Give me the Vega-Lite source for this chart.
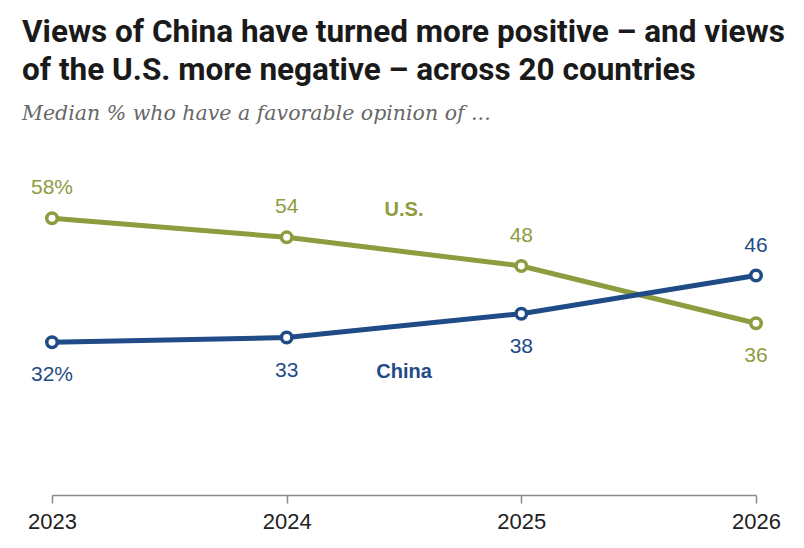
{
  "$schema": "https://vega.github.io/schema/vega-lite/v6.json",
  "autosize": "none",
  "padding": {"left": 52, "top": 161, "right": 48, "bottom": 53},
  "width": 704,
  "height": 334,
  "background": "white",
  "config": {"view": {"stroke": null}},
  "title": {
    "text": ["Views of China have turned more positive – and views", "of the U.S. more negative – across 20 countries"],
    "subtitle": "Median % who have a favorable opinion of ...",
    "anchor": "start",
    "frame": "group",
    "dx": -30,
    "offset": 37,
    "font": "Roboto",
    "fontSize": 31.5,
    "fontWeight": "bold",
    "lineHeight": 38,
    "color": "#1a1a1a",
    "subtitleFont": "DejaVu Serif",
    "subtitleFontStyle": "italic",
    "subtitleFontSize": 20.5,
    "subtitleColor": "#676767",
    "subtitlePadding": 17
  },
  "datasets": {
    "opinion": [
      {"country": "U.S.", "year": 2023, "value": 58},
      {"country": "U.S.", "year": 2024, "value": 54},
      {"country": "U.S.", "year": 2025, "value": 48},
      {"country": "U.S.", "year": 2026, "value": 36},
      {"country": "China", "year": 2023, "value": 32},
      {"country": "China", "year": 2024, "value": 33},
      {"country": "China", "year": 2025, "value": 38},
      {"country": "China", "year": 2026, "value": 46}
    ],
    "series": [
      {"country": "U.S.", "year": 2024.5, "value": 59.7},
      {"country": "China", "year": 2024.5, "value": 25.8}
    ]
  },
  "data": {"name": "opinion"},
  "encoding": {
    "x": {
      "field": "year",
      "type": "quantitative",
      "scale": {"domain": [2023, 2026], "nice": false, "zero": false},
      "axis": {
        "values": [2023, 2024, 2025, 2026],
        "format": "d",
        "title": null,
        "grid": false,
        "labelFlush": false,
        "labelBound": false,
        "labelOverlap": false,
        "domainColor": "#8a8a8a",
        "domainWidth": 1.5,
        "tickColor": "#8a8a8a",
        "tickWidth": 1.5,
        "tickSize": 8,
        "labelFont": "Liberation Sans",
        "labelFontSize": 22,
        "labelColor": "#222222",
        "labelPadding": 8
      }
    },
    "y": {
      "field": "value",
      "type": "quantitative",
      "scale": {"domain": [0, 70]},
      "axis": null
    },
    "color": {
      "field": "country",
      "type": "nominal",
      "scale": {"domain": ["U.S.", "China"], "range": ["#8e9b3e", "#1f4b86"]},
      "legend": null
    }
  },
  "layer": [
    {
      "mark": {"type": "line", "strokeWidth": 5},
      "encoding": {"order": {"field": "year"}, "detail": {"field": "country"}}
    },
    {
      "mark": {"type": "point", "shape": "circle", "filled": true, "fill": "white", "size": 110, "strokeWidth": 3.5, "opacity": 1},
      "encoding": {"stroke": {"field": "country", "type": "nominal", "scale": {"domain": ["U.S.", "China"], "range": ["#8e9b3e", "#1f4b86"]}, "legend": null}}
    },
    {
      "transform": [
        {"filter": "(datum.country === 'U.S.') !== (datum.year === 2026)"},
        {"calculate": "datum.year === 2023 ? datum.value + '%' : '' + datum.value", "as": "label"}
      ],
      "mark": {"type": "text", "dy": -30, "font": "Liberation Sans", "fontSize": 21, "baseline": "middle"},
      "encoding": {
        "text": {"field": "label"},
        "color": {"field": "country", "type": "nominal", "scale": {"domain": ["U.S.", "China"], "range": ["#97a14a", "#2c4c80"]}, "legend": null}
      }
    },
    {
      "transform": [
        {"filter": "(datum.country === 'U.S.') === (datum.year === 2026)"},
        {"calculate": "datum.year === 2023 ? datum.value + '%' : '' + datum.value", "as": "label"}
      ],
      "mark": {"type": "text", "dy": 33, "font": "Liberation Sans", "fontSize": 21, "baseline": "middle"},
      "encoding": {
        "text": {"field": "label"},
        "color": {"field": "country", "type": "nominal", "scale": {"domain": ["U.S.", "China"], "range": ["#97a14a", "#2c4c80"]}, "legend": null}
      }
    },
    {
      "data": {"name": "series"},
      "mark": {"type": "text", "font": "Liberation Sans", "fontSize": 20, "fontWeight": "bold", "baseline": "middle"},
      "encoding": {"text": {"field": "country"}}
    }
  ]
}
